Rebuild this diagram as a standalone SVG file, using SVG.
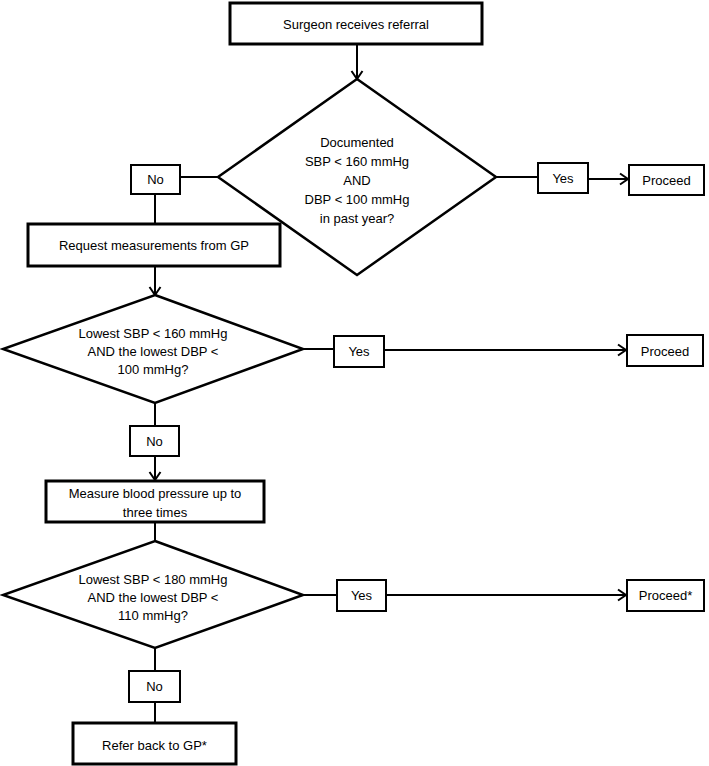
<svg xmlns="http://www.w3.org/2000/svg" width="709" height="766" viewBox="0 0 709 766">
<style>
  text { font-family: "Liberation Sans", Arial, sans-serif; font-size: 13px; fill: #000; text-anchor: middle; }
  .proc { fill: #fff; stroke: #000; stroke-width: 3; }
  .lbl { fill: #fff; stroke: #000; stroke-width: 2; }
  .dec { fill: #fff; stroke: #000; stroke-width: 2.5; stroke-linejoin: miter; }
  .conn line { stroke: #000; stroke-width: 2; }
</style>
<defs>
  <marker id="arr" markerUnits="userSpaceOnUse" viewBox="-10 -7 12 14" refX="0" refY="0" markerWidth="12" markerHeight="14" orient="auto">
    <path d="M-8,-5.5 L0,0 L-8,5.5" fill="none" stroke="#000" stroke-width="2"/>
  </marker>
</defs>
<rect width="709" height="766" fill="#fff"/>

<g id="connectors" class="conn">
  <line x1="357" y1="44" x2="357" y2="79" marker-end="url(#arr)"/>
  <line x1="180" y1="177" x2="218" y2="177"/>
  <line x1="496" y1="177" x2="538" y2="177"/>
  <line x1="588" y1="179" x2="628" y2="179" marker-end="url(#arr)"/>
  <line x1="155" y1="194" x2="155" y2="224"/>
  <line x1="155" y1="266" x2="155" y2="295" marker-end="url(#arr)"/>
  <line x1="303" y1="349" x2="334" y2="349"/>
  <line x1="384" y1="350" x2="626" y2="350" marker-end="url(#arr)"/>
  <line x1="155" y1="403" x2="155" y2="426"/>
  <line x1="155" y1="456" x2="155" y2="480" marker-end="url(#arr)"/>
  <line x1="155" y1="522" x2="155" y2="541"/>
  <line x1="303" y1="595" x2="337" y2="595"/>
  <line x1="386" y1="595" x2="626" y2="595" marker-end="url(#arr)"/>
  <line x1="155" y1="648" x2="155" y2="671"/>
  <line x1="155" y1="702" x2="155" y2="723"/>
</g>

<g id="n-surgeon">
  <rect class="proc" x="230" y="3" width="252" height="41"/>
  <text x="356" y="28.5">Surgeon receives referral</text>
</g>

<g id="n-decision1">
  <polygon class="dec" points="357,79 496,177 357,275 218,177"/>
  <text x="357" y="146.5">Documented</text>
  <text x="357" y="165.5">SBP &lt; 160 mmHg</text>
  <text x="357" y="184.5">AND</text>
  <text x="357" y="203.5">DBP &lt; 100 mmHg</text>
  <text x="357" y="222.5">in past year?</text>
</g>

<g id="n-no1">
  <rect class="lbl" x="131" y="165" width="49" height="29"/>
  <text x="155.5" y="184">No</text>
</g>

<g id="n-yes1">
  <rect class="lbl" x="538" y="163" width="50" height="30"/>
  <text x="563" y="182.5">Yes</text>
</g>

<g id="n-proceed1">
  <rect class="lbl" x="629" y="165" width="75" height="30"/>
  <text x="666.5" y="184.5">Proceed</text>
</g>

<g id="n-request">
  <rect class="proc" x="28" y="224" width="252" height="42"/>
  <text x="154" y="249.5">Request measurements from GP</text>
</g>

<g id="n-decision2">
  <polygon class="dec" points="155,295 303,349 155,403 3,349"/>
  <text x="153" y="337.5">Lowest SBP &lt; 160 mmHg</text>
  <text x="153" y="355.5">AND the lowest DBP &lt;</text>
  <text x="153" y="373.5">100 mmHg?</text>
</g>

<g id="n-yes2">
  <rect class="lbl" x="334" y="336" width="50" height="31"/>
  <text x="359" y="356">Yes</text>
</g>

<g id="n-proceed2">
  <rect class="lbl" x="627" y="335" width="76" height="31"/>
  <text x="665" y="355.5">Proceed</text>
</g>

<g id="n-no2">
  <rect class="lbl" x="130" y="426" width="49" height="30"/>
  <text x="154.5" y="445.5">No</text>
</g>

<g id="n-measure">
  <rect class="proc" x="46" y="481" width="218" height="41"/>
  <text x="155" y="497.5">Measure blood pressure up to</text>
  <text x="155" y="516.5">three times</text>
</g>

<g id="n-decision3">
  <polygon class="dec" points="155,541 303,595 155,648 3,595"/>
  <text x="153" y="583.5">Lowest SBP &lt; 180 mmHg</text>
  <text x="153" y="601.5">AND the lowest DBP &lt;</text>
  <text x="153" y="619.5">110 mmHg?</text>
</g>

<g id="n-yes3">
  <rect class="lbl" x="337" y="580" width="49" height="31"/>
  <text x="361.5" y="600">Yes</text>
</g>

<g id="n-proceed3">
  <rect class="lbl" x="627" y="580" width="77" height="31"/>
  <text x="665.5" y="600">Proceed*</text>
</g>

<g id="n-no3">
  <rect class="lbl" x="129" y="671" width="51" height="31"/>
  <text x="154.5" y="691">No</text>
</g>

<g id="n-refer">
  <rect class="proc" x="73" y="723" width="163" height="41"/>
  <text x="154.5" y="749.5">Refer back to GP*</text>
</g>
</svg>
